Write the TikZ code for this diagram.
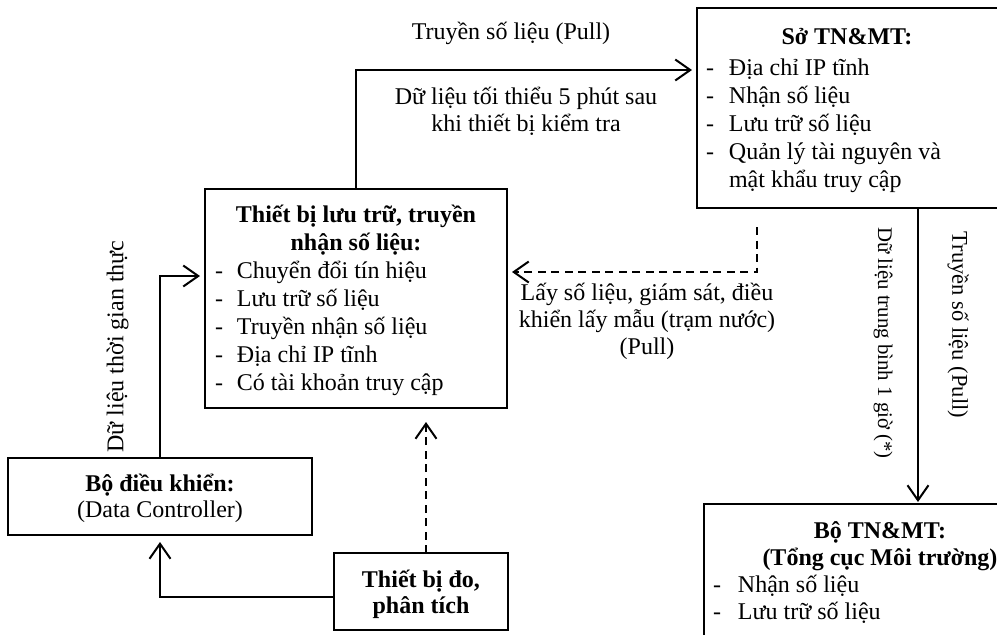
\documentclass[tikz,border=0pt]{standalone}
\usepackage{fontspec}
\setmainfont{Liberation Serif}
\usetikzlibrary{arrows.meta}
% list item: dash offset, text offset, text
\newcommand\litem[3]{\par\noindent\hspace*{#1}\makebox[\dimexpr#2-#1\relax][l]{-}#3}
\begin{document}
\begin{tikzpicture}[x=0.5pt,y=-0.5pt,line width=1pt,
  >={Straight Barb[length=7.5pt,width=10.5pt]},
  box/.style={draw,inner sep=0pt,outer sep=0pt,anchor=north west},
  lbl/.style={inner sep=0pt,font=\fontsize{12}{13.5}\selectfont},
  arr/.style={->,shorten >=2.5pt},
  darr/.style={->,dash pattern=on 4pt off 2.75pt,shorten >=2.5pt}]
\useasboundingbox (0,0) rectangle (997,634);
\clip (0,0) rectangle (997,634);

% boxes
\node[box] (so) at (697,8) {\parbox[c][100pt][t]{150pt}{\fontsize{12}{14}\selectfont
  \centering\rule{0pt}{18pt}\textbf{Sở TN\&MT:}\par\vspace{1.5pt}\raggedright
  \litem{4.5pt}{16pt}{Địa chỉ IP tĩnh}%
  \litem{4.5pt}{16pt}{Nhận số liệu}%
  \litem{4.5pt}{16pt}{Lưu trữ số liệu}%
  \litem{4.5pt}{16pt}{Quản lý tài nguyên và}%
  \par\noindent\hspace*{16pt}mật khẩu truy cập\par}\hspace*{8pt}};

\node[box] (tb) at (205,189) {\parbox[c][109.5pt][t]{151pt}{\fontsize{12}{14}\selectfont
  \centering\rule{0pt}{16.5pt}\textbf{Thiết bị lưu trữ, truyền}\\\textbf{nhận số liệu:}\par\raggedright
  \litem{5pt}{16pt}{Chuyển đổi tín hiệu}%
  \litem{5pt}{16pt}{Lưu trữ số liệu}%
  \litem{5pt}{16pt}{Truyền nhận số liệu}%
  \litem{5pt}{16pt}{Địa chỉ IP tĩnh}%
  \litem{5pt}{16pt}{Có tài khoản truy cập}\par}};

\node[box] (bdk) at (8,458) {\parbox[c][38.5pt][t]{152pt}{\fontsize{12}{13}\selectfont
  \centering\rule{0pt}{16.85pt}\textbf{Bộ điều khiển:}\\(Data Controller)\par}};

\node[box] (tbd) at (334,553) {\parbox[c][38.5pt][t]{87pt}{\fontsize{12}{13}\selectfont
  \centering\rule{0pt}{17.15pt}\textbf{Thiết bị đo,}\\\textbf{phân tích}\par}};

\node[box] (bo) at (704,504) {\parbox[c][73pt][t]{176pt}{\fontsize{12}{13.5}\selectfont
  \centering\rule{0pt}{17pt}\textbf{Bộ TN\&MT:}\\\textbf{(Tổng cục Môi trường)}\par\raggedright
  \litem{4.5pt}{17pt}{Nhận số liệu}%
  \litem{4.5pt}{17pt}{Lưu trữ số liệu}\par}\hspace*{20pt}};

% connector coordinates
\coordinate (kneeA) at (356,70);
\coordinate (dA) at (757,227);
\coordinate (dB) at (757,272);
\coordinate (vx) at (918,0);
\coordinate (kneeB) at (160,276);
\coordinate (kneeC) at (160,597);
\coordinate (dC) at (426,422);

% connectors
\draw[arr] (tb.north) -- (kneeA) -- (kneeA -| so.west);
\draw[darr] (dA) -- (dB) -- (dB -| tb.east);
\draw[arr,shorten >=1pt] (so.south -| vx) -- (bo.north -| vx);
\draw[arr] (bdk.north) -- (kneeB) -- (kneeB -| tb.west);
\draw[arr,shorten >=3.5pt] (kneeC -| tbd.west) -- (kneeC) -- (bdk.south);
\draw[darr,shorten >=0pt] (dC |- tbd.north) -- (dC);

% labels
\node[lbl,anchor=base] (lpull) at (511,39) {Truyền số liệu (Pull)};
\node[lbl,anchor=base] (lmin) at (526,104) {\parbox[t]{200pt}{\centering Dữ liệu tối thiểu 5 phút sau\\khi thiết bị kiểm tra}};
\node[lbl,anchor=base] (llay) at (647,300) {\parbox[t]{200pt}{\centering Lấy số liệu, giám sát, điều\\khiển lấy mẫu (trạm nước)\\(Pull)}};
\node[lbl,rotate=90] (lrt) at (117.5,346.5) {Dữ liệu thời gian thực};
\node[lbl,rotate=-90,font=\fontsize{10.4}{12}\selectfont] (lavg) at (883,343) {Dữ liệu trung bình 1 giờ (*)};
\node[lbl,rotate=-90,font=\fontsize{11.25}{13}\selectfont] (lpull2) at (958,325) {Truyền số liệu (Pull)};
\end{tikzpicture}
\end{document}
